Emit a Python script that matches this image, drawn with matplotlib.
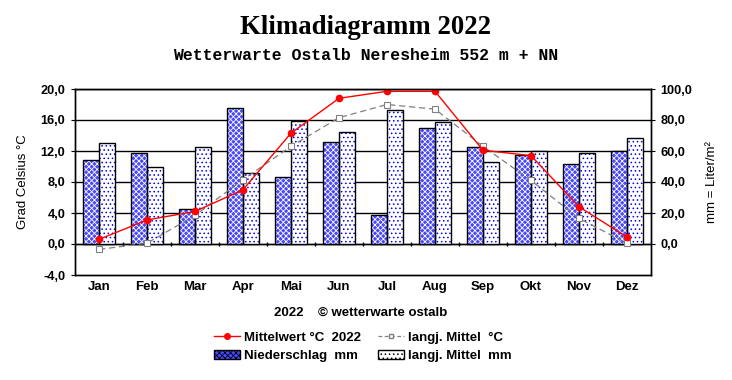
import numpy as np
import matplotlib
matplotlib.use("Agg")
import matplotlib.pyplot as plt
from matplotlib.patches import Patch
from matplotlib.lines import Line2D

months = ["Jan", "Feb", "Mar", "Apr", "Mai", "Jun", "Jul", "Aug", "Sep", "Okt", "Nov", "Dez"]
temp_2022 = [0.6, 3.1, 4.2, 7.0, 14.3, 18.8, 19.7, 19.7, 12.1, 11.4, 4.8, 0.9]
temp_mean = [-0.7, 0.1, 3.7, 8.3, 12.6, 16.3, 18.0, 17.4, 12.6, 8.2, 3.3, 0.1]
rain_2022 = [54.0, 58.5, 22.4, 87.5, 43.0, 65.8, 18.5, 74.6, 62.4, 57.2, 51.4, 59.8]
rain_mean = [65.2, 49.5, 62.4, 45.6, 79.6, 72.3, 86.2, 78.7, 52.7, 59.8, 58.5, 68.2]

plt.rcParams["font.family"] = "Liberation Sans"
plt.rcParams["font.weight"] = "bold"
plt.rcParams["hatch.linewidth"] = 0.6

fig = plt.figure(figsize=(7.32, 3.8), dpi=100)
ax = fig.add_axes([75/732, 1-275/380, 576/732, 186/380])
x = np.arange(len(months))
w = 1/3

# precipitation bars (mm axis)
ax.bar(x - w/2, rain_2022, w, color="#4848ff", edgecolor="white", hatch="xxxxxx", linewidth=0, zorder=2)
ax.bar(x - w/2, rain_2022, w, fill=False, edgecolor="black", linewidth=1, zorder=3)
ax.bar(x + w/2, rain_mean, w, color="white", edgecolor="#0000ff", hatch="....", linewidth=0, zorder=2)
ax.bar(x + w/2, rain_mean, w, fill=False, edgecolor="black", linewidth=1, zorder=3)

ax.set_ylim(-20, 100)
ax.set_xlim(-0.5, 11.5)
ax.grid(axis="y", color="black", linewidth=1)
ax.set_axisbelow(True)
ax.axhline(0, color="black", linewidth=1, zorder=1)
ax.vlines(np.arange(0.5, 11, 1), -1.3, 1.3, color="black", linewidth=1, zorder=1)
ax.set_xticks(x)
ax.set_xticklabels(months, fontsize=9.5)
ax.tick_params(axis="x", length=0, pad=4)

# temperature lines (°C axis)
ax2 = ax.twinx()
ax2.plot(x, temp_mean, color="#808080", linewidth=0.9, linestyle=(0, (5, 3)),
         marker="s", markersize=4, markerfacecolor="white", markeredgecolor="#808080", markeredgewidth=0.8)
ax2.plot(x, temp_2022, color="#ff0000", linewidth=1, marker="o", markersize=4.5,
         markerfacecolor="#ff0000", markeredgecolor="#ff0000")
ax2.set_ylim(-4, 20)
ax2.set_yticks(np.arange(-4, 21, 4))
ax2.set_yticklabels([f"{v:.1f}".replace(".", ",") for v in np.arange(-4, 21, 4)], fontsize=9.2)
ax2.yaxis.tick_left()
ax2.yaxis.set_label_position("left")
ax2.set_ylabel("Grad Celsius °C", fontsize=9.5, labelpad=8)
ax2.tick_params(axis="y", length=3, pad=4)

ax.yaxis.tick_right()
ax.yaxis.set_label_position("right")
ax.set_yticks(np.arange(0, 101, 20))
ax.set_yticklabels([f"{v:.1f}".replace(".", ",") for v in np.arange(0, 101, 20)], fontsize=9.2)
ax.set_ylabel("mm = Liter/m²", fontsize=9.5, labelpad=10)
ax.tick_params(axis="y", length=3, pad=4)

for a in (ax, ax2):
    for s in a.spines.values():
        s.set_linewidth(1)

fig.text(0.5, 1-27/380, "Klimadiagramm 2022", ha="center", va="center",
         fontsize=19.3, fontweight="bold", family="Liberation Serif")
fig.text(0.5, 1-55/380, "Wetterwarte Ostalb Neresheim 552 m + NN", ha="center", va="center",
         fontsize=11.9, fontweight="bold", family="Liberation Mono")
fig.text(274/732, 1-313/380, "2022    © wetterwarte ostalb", ha="left", va="center", fontsize=9.5)

handles = [
    Line2D([], [], color="#ff0000", linewidth=1, marker="o", markersize=4),
    Patch(facecolor="#4848ff", edgecolor="black", hatch="xxxxxx", linewidth=1),
    Line2D([], [], color="#808080", linewidth=0.9, linestyle=(0, (3, 2)), marker="s", markersize=3.5,
           markerfacecolor="white"),
    Patch(facecolor="white", edgecolor="black", hatch="....", linewidth=1),
]
labels = ["Mittelwert °C  2022", "Niederschlag  mm", "langj. Mittel  °C", "langj. Mittel  mm"]
fig.legend(handles, labels, ncol=2, loc="center left", bbox_to_anchor=(207/732, 1-347/380),
           frameon=False, fontsize=9.5, handlelength=2.0, handletextpad=0.3,
           columnspacing=1.3, labelspacing=0.45, borderpad=0)

fig.savefig("out.png", dpi=100)
